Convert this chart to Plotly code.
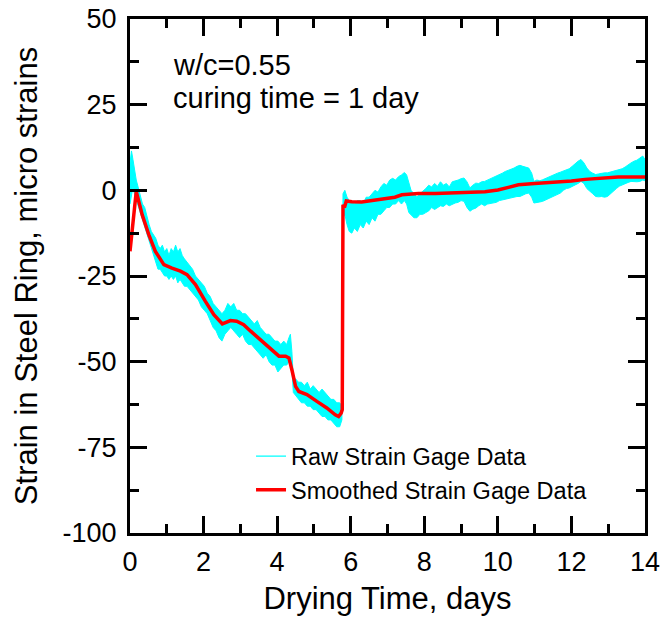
import plotly.graph_objects as go

# ---------------- data ----------------
# Raw strain-gauge record, described by its upper / lower noise envelope
raw_days = [0.00, 0.04, 0.08, 0.12, 0.17, 0.22, 0.28, 0.34, 0.40, 0.46, 0.52, 0.58, 0.64, 0.70,
            0.76, 0.82, 0.88, 0.94, 1.00, 1.06, 1.12, 1.18, 1.24, 1.30, 1.36, 1.42, 1.48, 1.55,
            1.62, 1.70, 1.78, 1.86, 1.94, 2.02, 2.10, 2.18, 2.26, 2.34, 2.42, 2.50, 2.58, 2.66,
            2.74, 2.82, 2.90, 2.98, 3.06, 3.14, 3.22, 3.30, 3.38, 3.46, 3.54, 3.62, 3.70, 3.78,
            3.86, 3.94, 4.02, 4.10, 4.18, 4.26, 4.32, 4.36, 4.40, 4.44, 4.50, 4.58, 4.66, 4.74,
            4.82, 4.90, 4.98, 5.06, 5.14, 5.22, 5.30, 5.38, 5.46, 5.54, 5.62, 5.70, 5.76,
            5.79, 5.84, 5.90, 5.96, 6.03, 6.10, 6.18, 6.26, 6.34, 6.42, 6.50, 6.58, 6.66, 6.74,
            6.82, 6.90, 6.98, 7.06, 7.14, 7.22, 7.30, 7.38, 7.46, 7.52, 7.58, 7.64, 7.72, 7.80,
            7.88, 7.96, 8.04, 8.12, 8.20, 8.28, 8.36, 8.44, 8.52, 8.60, 8.68, 8.76, 8.84, 8.92,
            9.00, 9.08, 9.16, 9.24, 9.32, 9.40, 9.48, 9.56, 9.64, 9.72, 9.80, 9.88, 9.96, 10.04,
            10.12, 10.20, 10.28, 10.36, 10.44, 10.52, 10.60, 10.68, 10.76, 10.84, 10.92, 10.98,
            11.06, 11.14, 11.22, 11.30, 11.38, 11.46, 11.54, 11.62, 11.70, 11.78, 11.86, 11.94,
            12.02, 12.10, 12.18, 12.26, 12.34, 12.42, 12.50, 12.58, 12.66, 12.74, 12.82, 12.90,
            12.98, 13.06, 13.14, 13.22, 13.30, 13.38, 13.46, 13.54, 13.62, 13.70, 13.78, 13.86,
            13.94, 14.00]
raw_upper = [8, 11.5, 9, 6, 3, 1, -2, -4, -5, -8, -10, -12, -13, -14,
             -16, -17, -16, -18, -17, -19, -17, -18, -16, -18, -17, -19, -20, -21,
             -22, -23, -25, -26, -27, -28, -30, -31, -33, -34, -35, -36, -35, -33,
             -34, -33, -35, -35, -36, -36, -37, -38, -39, -38, -40, -41, -42, -42,
             -43, -44, -44, -45, -44, -45, -43, -42, -47, -55, -55, -56, -56, -57,
             -56, -58, -57, -58, -59, -58, -59, -60, -61, -61, -62, -62, -63,
             -1, 0, -2, -3, -3, -4, -3, -3, -4, -2, -2, -1, 0, -0.5,
             1, 2, 1.5, 3, 3.5, 3, 4, 4.5, 5.2, 4.5, 2.5, 0, -1, -2,
             -1, -0.3, 0.5, 1.5, 1, 2, 1.2, 2.5, 1.5, 2, 1, 2.5, 2.7, 3,
             3.4, 3.6, 2.5, 0.7, 1.5, 2.1, 2, 2.5, 2.6, 3, 3.3, 3.6, 4, 4.5,
             5, 5.5, 5.8, 6.0, 6.5, 7, 7.3, 7, 6.8, 6.5, 5, 2.6,
             3, 2.8, 3.1, 3.5, 4, 4.3, 4.6, 5, 5.3, 5.6, 6, 6.3,
             7, 7.8, 8.5, 9, 8, 6.5, 5.5, 5, 4.6, 4.8, 5, 5.1,
             5.1, 5.3, 5.5, 5.8, 6, 6.3, 6.8, 7.5, 8, 8.5, 8.8, 9.4,
             10, 9]
raw_lower = [-4, -2, 1, -1, -3, -5, -7, -9, -11, -13, -15, -17, -19, -21,
             -23, -23, -24, -25, -25, -26, -25, -26, -25, -27, -26, -27, -28, -28,
             -29, -30, -31, -32, -34, -35, -36, -38, -40, -41, -43, -44, -42, -41,
             -40, -41, -42, -43, -42, -44, -45, -45, -46, -47, -48, -49, -48, -50,
             -51, -51, -53, -52, -51, -51, -50, -50, -52, -59, -60, -61, -62, -62,
             -63, -63, -64, -64, -65, -66, -66, -67, -67, -68, -69, -69, -67,
             -8, -7, -10, -12, -12.5, -11, -12, -10, -11, -9, -10, -8, -9, -7,
             -7, -6, -5, -5, -4, -4, -3, -4, -3, -4, -6.5, -7, -8, -8,
             -7, -7, -6.5, -6, -5, -5.6, -5, -4.5, -4.7, -4, -4.5, -4, -3.7, -3.5,
             -3, -3.2, -5, -6.1, -5.5, -5.2, -4.5, -4, -4.5, -4, -3.7, -3.7, -3.5, -3,
             -2.8, -2.5, -2.2, -2.2, -2, -1.8, -1.8, -1.5, -1, -0.8, -2, -3.7,
             -3.5, -3.4, -3.2, -2.8, -2.5, -2, -1.8, -1.2, -0.8, 0, 0.5, 0.7,
             1, 1.5, 2, 2.6, 2, 0.5, -0.3, -1, -1.8, -1.9, -1.8, -2,
             -1.8, -1, -0.2, 0.5, 1.2, 1.7, 2, 2.3, 2.6, 2.6, 2.5, 2.6,
             3, 2.8]

# Smoothed strain-gauge curve
smooth_days = [0.00, 0.17, 0.33, 0.51, 0.69, 0.92, 1.14, 1.37, 1.55, 1.78, 2.05, 2.28, 2.51,
               2.62, 2.73, 2.90, 3.09, 3.28, 3.55, 3.82, 4.05, 4.23, 4.32, 4.41, 4.50, 4.59,
               4.81, 5.08, 5.35, 5.58, 5.67, 5.74, 5.77, 5.79, 5.83, 5.88, 6.03, 6.30, 6.60,
               6.94, 7.20, 7.39, 7.84, 8.30, 8.75, 9.20, 9.65, 10.00, 10.56, 11.00, 11.47,
               12.00, 12.37, 13.00, 13.27, 13.60, 14.00]
smooth_strain = [-17.8, -0.3, -7.1, -12.9, -17.8, -21.7, -22.7, -23.6, -24.6, -27.5, -32.4,
                 -36.3, -39.0, -38.6, -38.0, -38.2, -39.2, -41.1, -43.6, -46.0, -48.4, -48.4,
                 -48.9, -52.8, -57.2, -58.7, -59.6, -61.6, -63.5, -65.5, -66.0, -65.0, -64.0,
                 -4.2, -5.0, -3.1, -3.3, -3.4, -3.0, -2.6, -2.0, -1.3, -0.9, -0.9, -0.8, -0.7,
                 -0.4, 0.1, 1.6, 2.0, 2.3, 2.7, 3.2, 3.7, 3.9, 3.9, 3.9]

x_tickvals = [0, 2, 4, 6, 8, 10, 12, 14]
x_ticktext = ["0", "2", "4", "6", "8", "10", "12", "14"]
y_tickvals = [-100, -75, -50, -25, 0, 25, 50]
y_ticktext = ["-100", "-75", "-50", "-25", "0", "25", "50"]

FONT = "Liberation Sans, Arial, sans-serif"
CYAN = "#00FFFF"
RED = "#FF0000"

# closed outline of the raw-data noise band
band_x = raw_days + raw_days[::-1]
band_y = raw_upper + raw_lower[::-1]

fig = go.Figure()
fig.add_trace(go.Scatter(x=band_x, y=band_y, mode="lines", fill="toself",
                         line=dict(color=CYAN, width=1), fillcolor=CYAN,
                         showlegend=False, hoverinfo="skip", name="Raw Strain Gage Data"))
# legend entry for the raw record (thin cyan line)
fig.add_trace(go.Scatter(x=[None], y=[None], mode="lines",
                         line=dict(color=CYAN, width=1.2), name="Raw Strain Gage Data"))
fig.add_trace(go.Scatter(x=smooth_days, y=smooth_strain, mode="lines",
                         line=dict(color=RED, width=3.5),
                         name="Smoothed Strain Gage Data"))

axis_common = dict(showgrid=False, zeroline=False, showline=True, linecolor="black",
                   linewidth=3, mirror="allticks", ticks="inside", ticklen=17,
                   tickwidth=3, tickcolor="black", automargin=False,
                   tickfont=dict(family=FONT, size=27, color="black"))

fig.update_xaxes(range=[0, 14], tickmode="array", tickvals=x_tickvals, ticktext=x_ticktext,
                 ticklabelstandoff=3,
                 minor=dict(dtick=1, ticks="inside", ticklen=9, tickwidth=3, tickcolor="black"),
                 title=dict(text="Drying Time, days", font=dict(family=FONT, size=31, color="black"),
                            standoff=11),
                 **axis_common)
fig.update_yaxes(range=[-100, 50], tickmode="array", tickvals=y_tickvals, ticktext=y_ticktext,
                 ticklabelstandoff=5,
                 minor=dict(dtick=12.5, tick0=0, ticks="inside", ticklen=9, tickwidth=3,
                            tickcolor="black"),
                 title=dict(text="Strain in Steel Ring, micro strains",
                            font=dict(family=FONT, size=31, color="black"), standoff=16),
                 **axis_common)

fig.add_annotation(text="w/c=0.55", xref="paper", yref="paper", x=0.08, y=0.91,
                   xanchor="left", yanchor="middle", showarrow=False,
                   font=dict(family=FONT, size=29, color="black"))
fig.add_annotation(text="curing time = 1 day", xref="paper", yref="paper", x=0.08, y=0.846,
                   xanchor="left", yanchor="middle", showarrow=False,
                   font=dict(family=FONT, size=29, color="black"))

fig.update_layout(
    width=663, height=620,
    margin=dict(l=130, r=18, t=19, b=87),
    paper_bgcolor="white", plot_bgcolor="white",
    showlegend=True,
    legend=dict(x=0.235, y=0.192, xanchor="left", yanchor="top", traceorder="normal",
                bgcolor="rgba(0,0,0,0)", borderwidth=0,
                font=dict(family=FONT, size=23.5, color="black"),
                tracegroupgap=0),
)

fig.write_html("out.html")
